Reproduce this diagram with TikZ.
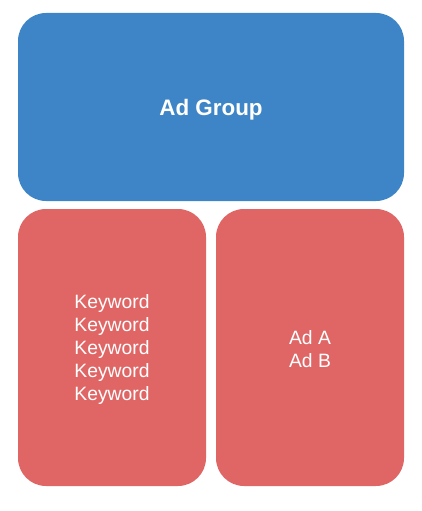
\documentclass[tikz,border=0pt]{standalone}
\usepackage{fontspec}
\setmainfont{Liberation Sans}
\usetikzlibrary{positioning}
\definecolor{groupblue}{HTML}{3D85C6}
\definecolor{itemred}{HTML}{E06666}

\begin{document}
\begin{tikzpicture}[x=1pt,y=-1pt]
\tikzstyle{block}=[rounded corners = 28pt, inner sep = 0pt, text = white, align = center, font = \fontsize{19.3}{23}\selectfont]
\useasboundingbox (0,0) rectangle (421,511);
\node[block, fill = groupblue, minimum width = 386pt, minimum height = 188pt] (group) at (211,107) {};
\node[text = white, font = \fontsize{22.4}{26}\selectfont\bfseries] (grouplabel) at (211,109.5) {Ad Group};
\node[block, fill = itemred, minimum width = 188pt, minimum height = 277pt] (keywords) at (112,347.5) {};
\node[text = white, align = center, font = \fontsize{19.3}{23}\selectfont] (keywordlist) at (112,349.5) {Keyword\\Keyword\\Keyword\\Keyword\\Keyword};
\node[block, fill = itemred, minimum width = 188pt, minimum height = 277pt] (ads) at (310,347.5) {};
\node[text = white, align = center, font = \fontsize{19.3}{23}\selectfont] (adlist) at (310,349.5) {Ad A\\Ad B};
\end{tikzpicture}
\end{document}
